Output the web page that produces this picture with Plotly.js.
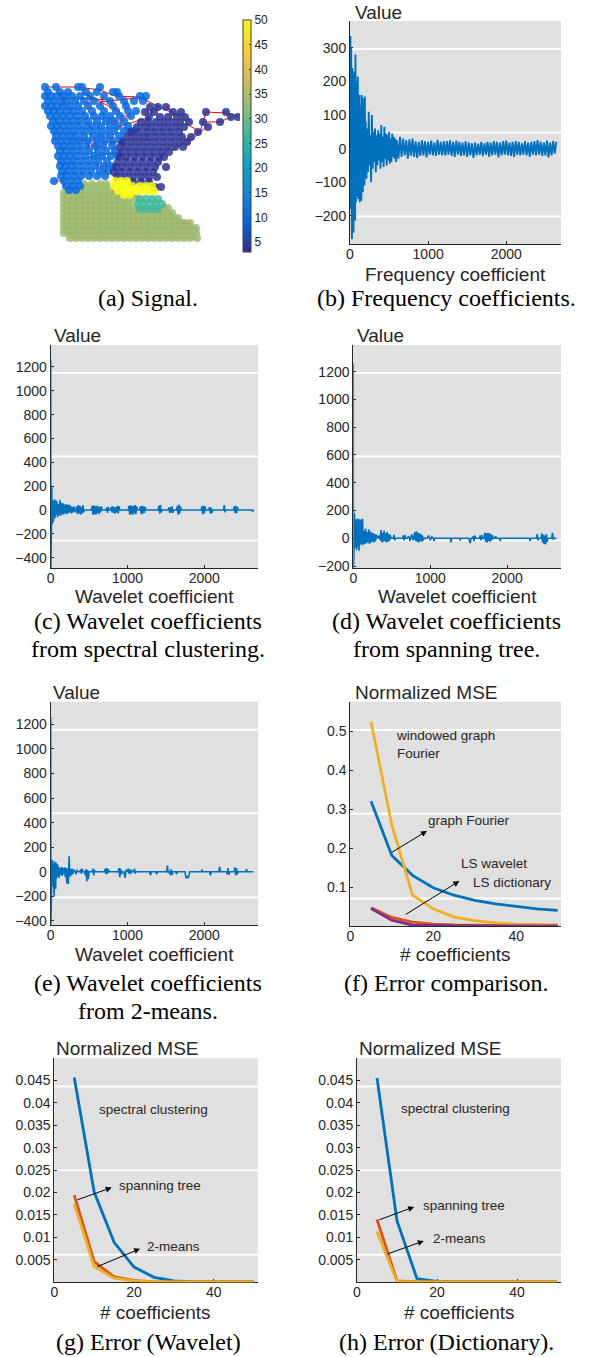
<!DOCTYPE html>
<html><head><meta charset="utf-8">
<script src="https://cdn.plot.ly/plotly-3.0.1.min.js"></script>
<style>html,body{margin:0;padding:0;background:#fff}#chart{width:592px;height:1357px}</style>
</head><body><div id="chart"></div>
<script>
// ---------- (a) graph signal: node rows [y, [x...]] per cluster, signal value per cluster ----------
const oliveRows = [
[184,[84,92,100,106]],
[188,[84,90,96,102,108]],
[193,[64,70,76,82,88,94,100,106,112,118]],
[198,[64,70,76,82,88,94,100,106,112,118,124,130,136]],
[203,[64,70,76,82,88,94,100,106,112,118,124,130]],
[208,[64,70,76,82,88,94,100,106,112,118,124,130,136,164,168]],
[213,[64,70,76,82,88,94,100,106,112,118,124,130,136,142,148,154,160,166,172]],
[218,[64,70,76,82,88,94,100,106,112,118,124,130,136,142,148,154,160,166,172,178]],
[223,[64,70,76,82,88,94,100,106,112,118,124,130,136,142,148,154,160,166,172,178,184,190]],
[228,[64,70,76,82,88,94,100,106,112,118,124,130,136,142,148,154,160,166,172,178,184,190,196]],
[233,[64,70,76,82,88,94,100,106,112,118,124,130,136,142,148,154,160,166,172,178,184,190,196]],
[238,[70,76,82,88,94,100,106,112,118,124,130,136,142,148,154,160,166,172,178,184,190,197]]
];
const blueRows = [
[87,[45,56,78,82,100]],
[92,[48,60,68,86,97,113,117]],
[96,[45,51,57,64,72,80,90,104,119,140,146]],
[101,[48,54,61,67,75,84,94,110,124,134,143]],
[106,[45,51,57,63,70,78,88,100,113,126]],
[111,[48,54,60,67,74,82,92,104,116,128,136]],
[116,[50,56,63,70,77,85,94,102,110,120,131]],
[121,[53,59,66,73,80,88,97,106,114,124]],
[126,[51,57,63,70,78,86,93,101,110,118,128]],
[131,[54,60,67,74,82,90,98,106,114,124,132]],
[136,[56,62,69,76,84,93,101,110,119]],
[141,[55,61,67,73,80,88,97,105,113,121]],
[146,[58,64,71,78,86,95,103,112]],
[151,[60,66,73,81,89,98,106,115]],
[156,[58,64,70,77,85,94,102,111,118]],
[161,[61,67,74,82,90,98,107]],
[166,[60,66,72,79,87,95,104,112]],
[171,[62,68,75,83,91,100,108]],
[176,[61,67,74,81,89,97,105]],
[181,[54,64,71,78]],
[186,[66,73,80]],
[190,[69,76]]
];
const purpleRows = [
[107,[150,158,166]],
[112,[145,154,173,181,206,226]],
[117,[149,160,168,177,185,231,238]],
[122,[141,148,156,164,172,180,189,203,220]],
[127,[137,145,152,160,168,176,184,208]],
[132,[131,139,147,155,163,171,179,198]],
[137,[127,135,143,150,158,166,174,182,191]],
[142,[123,131,139,147,155,163,171,179,187]],
[147,[120,127,135,143,151,159,167,175,183]],
[152,[122,130,138,146,154,162,169]],
[157,[120,127,135,143,151,159,164]],
[162,[118,126,134,142,150,158]],
[167,[116,123,131,139,147,155,166]],
[172,[114,121,129,137,145,153]],
[177,[117,125,133,141,149,157]],
[182,[133,141,149]],
[187,[155,161]]
];
const tealRows = [
[199,[140,146,152,158]],
[204,[138,144,150,156,162]],
[209,[140,146,152,158]]
];
const yellowRows = [
[181,[115,121,127]],
[186,[114,120,126,132,140,146,152]],
[191,[118,124,130,136,142,148,154]],
[195,[124,130]]
];
const clusterRows = [oliveRows, blueRows, purpleRows, tealRows, yellowRows];
const clusterSignal = [33, 10, 4, 27, 50];
const roads = [
[45,87,56,87],[56,87,78,87],[78,87,100,90],[100,90,115,96],[115,96,140,97],[140,97,157,106],[157,106,182,117],
[182,117,190,126],[190,126,200,132],[200,132,206,112],[206,112,226,113],[226,113,238,116],[203,122,220,122],
[220,122,231,117],[186,145,208,125],[172,150,198,132],[82,92,120,112],[60,97,110,100],[100,102,146,97],
[118,127,150,117],[70,140,120,142],[88,157,122,152],[54,181,64,181],[64,172,64,188],[82,187,82,198],
[112,193,115,181],[140,172,156,187],[156,187,152,191],[164,208,172,213],[178,218,196,228],
[60,92,64,106],[90,96,88,106],[104,96,100,106],[110,101,113,106],[124,101,126,106],[120,116,131,116],
[106,121,124,121],[131,132,139,132],[97,136,110,136],[86,146,103,146],[95,166,112,166],[100,171,108,171],
[145,112,154,112],[166,107,173,112],[181,112,185,117]
];
const cbTicks = [5,10,15,20,25,30,35,40,45,50];

// ---------- (b) frequency coefficients ----------
const freqX = [0,5,10,15,20,25,30,35,40,45,50,55,60,65,70,75,80,85,90,95,100,105,110,115,120,125,130,135,140,145,150,155,160,165,170,175,180,185,190,195,200,
210,220,230,240,250,260,270,280,290,300,310,320,330,340,350,360,370,380,390,400,410,420,430,440,450,460,470,480,490,500,510,520,530,540,550,560,570,580,590,600,
620,640,660,680,700,720,740,760,780,800,820,840,860,880,900,920,940,960,980,1000,
1020,1040,1060,1080,1100,1120,1140,1160,1180,1200,1220,1240,1260,1280,1300,1320,1340,1360,1380,1400,
1420,1440,1460,1480,1500,1520,1540,1560,1580,1600,1620,1640,1660,1680,1700,1720,1740,1760,1780,1800,
1820,1840,1860,1880,1900,1920,1940,1960,1980,2000,2020,2040,2060,2080,2100,2120,2140,2160,2180,2200,
2220,2240,2260,2280,2300,2320,2340,2360,2380,2400,2420,2440,2460,2480,2500,2520,2540,2560,2580,2600,2620,2640];
const freqY = [100,335,-180,300,-150,-270,240,-200,180,-250,230,-120,210,-215,280,-160,150,-140,200,-100,215,-150,130,-90,160,-160,120,-70,130,-155,160,-90,100,-130,150,-60,90,-110,155,-50,80,
-90,60,-70,110,-50,40,-100,100,-60,50,-40,60,-70,40,-50,55,-35,45,-60,70,-40,35,-55,65,-30,45,-50,40,-35,50,-45,30,-40,45,-25,35,-30,30,-40,25,
-30,35,-25,30,-20,25,-30,28,-22,30,-25,22,-28,20,-22,25,-20,22,-26,20,
-18,24,-20,18,-22,26,-18,20,-20,22,-20,22,-18,25,-22,20,-25,24,-18,20,
-22,18,-20,22,-25,18,-20,16,-28,18,-20,15,-18,20,-22,16,-18,20,-24,18,
-20,22,-18,20,-26,18,-20,22,-18,24,-20,18,-22,20,-25,22,-18,20,-20,16,
-18,22,-20,18,-24,20,-18,22,-20,25,-18,20,-22,18,-20,24,-26,18,-20,22,-15,20];

// ---------- (c) wavelet coefficients, spectral clustering: [index, value] ----------
const waveSpectral = [
[0,1260],[2,-490],[4,280],[6,-200],[8,210],[10,-150],[14,190],[18,-120],[22,100],[26,-90],[30,80],[35,-100],[40,70],[45,-60],[50,90],[55,-70],[60,60],[65,-50],[70,80],[75,-40],[80,70],[90,-60],[100,50],[110,-45],[120,85],[130,-50],[140,60],[150,-35],[160,55],[170,-40],[180,45],[190,-30],[200,50],[210,-35],[220,40],[230,-25],[240,45],[250,-20],[260,35],[270,-30],[280,25],[290,-20],[300,30],
[320,-20],[340,30],[350,-35],[360,40],[370,-30],[380,35],[390,-40],[400,25],[410,-30],[420,40],[430,-20],[440,0],
[530,0],[540,35],[550,-40],[560,40],[570,-35],[580,30],[590,-40],[600,35],[610,-25],[620,30],[630,-35],[640,25],[650,-20],[660,30],[670,0],
[720,0],[730,20],[740,-25],[750,25],[760,0],[780,0],[790,25],[800,-20],[810,30],[820,-25],[830,20],[840,-30],[850,25],[860,-20],[870,35],[880,-30],[890,30],[900,0],
[1010,0],[1020,35],[1030,-40],[1040,40],[1050,-35],[1060,30],[1070,-40],[1080,35],[1090,-30],[1100,40],[1110,-35],[1120,30],[1130,0],[1160,0],[1170,30],[1180,-35],[1190,35],[1200,-30],[1210,30],[1220,-25],[1230,25],[1240,0],
[1400,0],[1410,35],[1420,-30],[1430,40],[1440,-20],[1450,0],
[1530,0],[1540,20],[1550,-25],[1560,25],[1570,-20],[1580,30],[1590,-25],[1600,0],[1640,0],[1650,35],[1660,-40],[1670,45],[1680,-30],[1690,30],[1700,0],
[1960,0],[1970,30],[1980,-35],[1990,35],[2000,-30],[2010,30],[2020,0],[2060,0],[2070,25],[2080,-30],[2090,20],[2100,-25],[2110,0],
[2250,0],[2260,40],[2270,-20],[2280,0],
[2380,0],[2390,30],[2400,-25],[2410,35],[2420,-30],[2430,25],[2440,0],
[2620,0],[2630,-10],[2640,-5],[2645,0]
];

// ---------- (d) wavelet coefficients, spanning tree ----------
const waveTree = [
[0,1260],[2,-210],[4,250],[6,-60],[8,200],[10,-80],[14,180],[18,-40],[22,150],[26,-70],[30,120],[35,-50],[40,140],[45,-85],[50,100],[55,-40],[60,135],[65,-60],[70,140],[75,-90],[80,130],[85,-50],[90,120],[95,-40],[100,135],[110,-45],[120,140],[130,-50],[140,55],[150,-40],[160,70],[170,-35],[180,45],[190,-30],[200,65],[210,-40],[220,50],[230,-30],[240,40],[250,-25],[260,35],[270,-30],[280,30],[290,-20],[300,25],
[320,0],[340,20],[350,-15],[360,60],[370,-30],[380,40],[390,-25],[400,55],[410,-20],[420,35],[430,-30],[440,45],[450,-25],[460,30],[470,-20],[480,25],[490,0],[520,0],[530,25],[540,-15],[550,0],
[640,0],[650,20],[660,-15],[670,25],[680,0],[700,0],[720,15],[740,-20],[760,30],[780,-15],[800,45],[810,-20],[820,50],[830,-25],[840,40],[850,-30],[860,35],[870,-20],[880,30],[890,-25],[900,20],[910,-15],[920,0],[960,0],[980,20],[1000,-15],[1020,10],[1040,0],[1050,-20],[1060,0],
[1260,0],[1270,-30],[1280,0],[1380,0],[1390,-15],[1400,0],
[1500,0],[1510,-20],[1520,-35],[1530,0],[1550,0],[1560,15],[1570,-20],[1580,20],[1590,0],[1640,0],[1650,20],[1660,-15],[1670,25],[1680,0],[1700,0],[1710,40],[1720,-25],[1730,35],[1740,-30],[1750,40],[1760,-20],[1770,35],[1780,-25],[1790,30],[1800,-15],[1810,20],[1820,0],[1840,0],[1850,15],[1860,0],[1900,0],[1910,-20],[1920,0],
[2290,0],[2300,-20],[2310,0],[2380,0],[2390,30],[2400,-15],[2410,0],[2440,0],[2450,35],[2460,-30],[2470,25],[2480,-40],[2490,20],[2500,-45],[2510,30],[2520,-25],[2530,0],[2580,0],[2590,40],[2600,-10],[2610,0],[2640,0]
];

// ---------- (e) wavelet coefficients, 2-means ----------
const waveKmeans = [
[0,1260],[2,-430],[4,100],[6,-150],[8,90],[10,-200],[14,80],[18,-60],[22,95],[26,-120],[30,70],[35,-80],[40,60],[45,-200],[50,85],[55,-50],[60,40],[65,-140],[70,75],[75,-60],[80,50],[85,-30],[90,60],[95,-40],[100,40],[110,-50],[120,30],[130,-25],[140,40],[150,-35],[160,30],[170,-20],[180,35],[190,-45],[200,30],[210,-95],[220,25],[230,-100],[240,125],[250,-40],[260,20],[270,-30],[280,25],[290,-20],[300,15],
[320,0],[330,-20],[340,15],[350,0],[380,0],[390,20],[400,-15],[410,25],[420,0],[440,0],[450,-30],[460,20],[470,-80],[480,15],[490,-60],[500,0],[540,0],[550,25],[560,-30],[570,15],[580,0],
[700,0],[710,25],[720,-20],[730,30],[740,-15],[750,20],[760,0],[880,0],[890,30],[900,-45],[910,25],[920,-20],[930,0],[950,0],[960,-35],[970,-50],[980,15],[990,0],[1000,0],[1010,25],[1020,-15],[1030,20],[1040,-20],[1050,15],[1060,0],[1080,0],[1090,25],[1100,-15],[1110,0],
[1290,0],[1300,-30],[1310,0],[1370,0],[1380,-20],[1390,0],[1510,0],[1520,50],[1530,-10],[1540,0],[1550,0],[1560,-30],[1570,20],[1580,-25],[1590,0],[1630,0],[1640,-20],[1650,0],
[1750,0],[1760,-45],[1770,-50],[1780,-40],[1790,-50],[1800,-35],[1810,0],[1960,0],[1970,15],[1980,0],[2070,0],[2080,-30],[2090,0],[2190,0],[2200,40],[2210,0],
[2290,0],[2300,-20],[2310,30],[2320,-25],[2330,0],[2390,0],[2400,35],[2410,-30],[2420,30],[2430,-20],[2440,0],[2540,0],[2550,20],[2560,0],[2640,0]
];

// ---------- (f) error comparison ----------
const numCoef = [5,10,15,20,25,30,35,40,45,50];
const mseGraphFourier = [0.320,0.181,0.130,0.098,0.079,0.066,0.057,0.050,0.044,0.040];
const mseLSWavelet = [0.047,0.022,0.010,0.005,0.003,0.002,0.0015,0.001,0.001,0.001];
const mseWindowedGF = [0.524,0.260,0.079,0.044,0.023,0.014,0.008,0.005,0.004,0.003];
const mseLSDictionary = [0.045,0.015,0.002,0.001,0.0005,0.0003,0.0002,0.0001,0.0001,0.0001];

// ---------- (g) error, wavelet ----------
const wavMseSpectral = [0.0456,0.0201,0.0089,0.0034,0.0011,0.0003,0.0001,0.0001,0.0001,0.0001];
const wavMseTree = [0.0194,0.0046,0.0012,0.0004,0.0001,0.0001,0.0001,0.0001,0.0001,0.0001];
const wavMseKmeans = [0.0175,0.0035,0.0009,0.0003,0.0001,0.0001,0.0001,0.0001,0.0001,0.0001];

// ---------- (h) error, dictionary ----------
const dictMseSpectral = [0.0455,0.0137,0.0008,0.0002,0.0001,0.0001,0.0001,0.0001,0.0001,0.0001];
const dictMseTree = [0.0140,0.0003,0.0001,0.0001,0.0001,0.0001,0.0001,0.0001,0.0001,0.0001];
const dictMseKmeans = [0.0113,0.0002,0.0001,0.0001,0.0001,0.0001,0.0001,0.0001,0.0001,0.0001];

// ================= drawing =================
const W = 592, H = 1357;
const xd = (a, b) => [a / W, b / W];
const yd = (top, bot) => [1 - bot / H, 1 - top / H];
const C = {blue:'#0072BD', orange:'#D95319', yellow:'#EDB120', purple:'#7E2F8E'};
const SANS = 'Liberation Sans, Arial, Helvetica, sans-serif';
const SERIF = 'Liberation Serif, Times New Roman, serif';
const TXT = '#262626';
const parula = [[0,'#352A87'],[0.125,'#0363E1'],[0.25,'#1485D4'],[0.375,'#06A7C6'],[0.5,'#38B99E'],[0.625,'#92BF73'],[0.75,'#D9BA56'],[0.875,'#FCCE2E'],[1,'#F9FB0E']];

const traces = [];
// edges: olive road grid (row neighbours and same-x neighbours) + listed roads
const ex = [], ey = [];
oliveRows.forEach(([y, xs]) => {
  for (let i = 1; i < xs.length; i++) { ex.push(xs[i-1], xs[i], null); ey.push(y, y, null); }
});
for (let r = 1; r < oliveRows.length; r++) {
  const [y0, xs0] = oliveRows[r-1], [y1, xs1] = oliveRows[r];
  xs1.forEach(x => { if (xs0.includes(x)) { ex.push(x, x, null); ey.push(y0, y1, null); } });
}
roads.forEach(([a, b, c, d]) => { ex.push(a, c, null); ey.push(b, d, null); });
traces.push({type:'scatter', mode:'lines', x:ex, y:ey, xaxis:'x', yaxis:'y', line:{color:'#ff0000', width:1}, hoverinfo:'skip'});
// nodes
const nx = [], ny = [], nv = [];
clusterRows.forEach((rows, k) => rows.forEach(([y, xs]) => xs.forEach(x => { nx.push(x); ny.push(y); nv.push(clusterSignal[k]); })));
traces.push({type:'scatter', mode:'markers', x:nx, y:ny, xaxis:'x', yaxis:'y', hoverinfo:'skip',
  marker:{size:8, color:nv, colorscale:parula, cmin:3, cmax:50, opacity:0.85, line:{width:0},
    showscale:true,
    colorbar:{x:243/W, xanchor:'left', y:1-136/H, yanchor:'middle', len:232/H, lenmode:'fraction', thickness:8,
      outlinecolor:'#404040', outlinewidth:1, tickvals:cbTicks, ticks:'inside', ticklen:2, tickcolor:'#404040',
      tickfont:{family:SANS, size:12, color:TXT}, xpad:0, ypad:0}}});

const sig = (pts, ax) => ({type:'scatter', mode:'lines', x:pts.map(p=>p[0]), y:pts.map(p=>p[1]), xaxis:'x'+ax, yaxis:'y'+ax, line:{color:C.blue, width:1.6}, hoverinfo:'skip'});
traces.push({type:'scatter', mode:'lines', x:freqX, y:freqY, xaxis:'x2', yaxis:'y2', line:{color:C.blue, width:1.9}, hoverinfo:'skip'});
traces.push(sig(waveSpectral, 3));
traces.push(sig(waveTree, 4));
traces.push(sig(waveKmeans, 5));
const ln = (y, col, ax) => ({type:'scatter', mode:'lines', x:numCoef, y:y, xaxis:'x'+ax, yaxis:'y'+ax, line:{color:col, width:2.8}, hoverinfo:'skip'});
traces.push(ln(mseGraphFourier, C.blue, 6), ln(mseLSWavelet, C.orange, 6), ln(mseWindowedGF, C.yellow, 6), ln(mseLSDictionary, C.purple, 6));
traces.push(ln(wavMseSpectral, C.blue, 7), ln(wavMseTree, C.orange, 7), ln(wavMseKmeans, C.yellow, 7));
traces.push(ln(dictMseSpectral, C.blue, 8), ln(dictMseTree, C.orange, 8), ln(dictMseKmeans, C.yellow, 8));

const base = {showgrid:false, zeroline:false, showline:true, linecolor:TXT, linewidth:1, ticks:'inside', ticklen:3,
  tickcolor:TXT, tickfont:{family:SANS, size:14, color:TXT}, fixedrange:true, layer:'below traces'};
const xb = Object.assign({}, base, {ticklabelstandoff:-3});
const layout = {
  width:W, height:H, margin:{l:0, r:0, t:0, b:0}, paper_bgcolor:'#fff', plot_bgcolor:'rgba(0,0,0,0)', showlegend:false,
  xaxis:{domain:xd(0,240), range:[0,240], visible:false, fixedrange:true},
  yaxis:{domain:yd(0,260), range:[260,0], visible:false, fixedrange:true},
  xaxis2:Object.assign({}, xb, {domain:xd(350,561), range:[0,2700], tickvals:[0,1000,2000], anchor:'y2'}),
  yaxis2:Object.assign({}, base, {domain:yd(21,244), range:[-284,380], tickvals:[-200,-100,0,100,200,300], anchor:'x2'}),
  xaxis3:Object.assign({}, xb, {domain:xd(50.7,258), range:[0,2700], tickvals:[0,1000,2000], anchor:'y3'}),
  yaxis3:Object.assign({}, base, {domain:yd(345,568), range:[-487,1384], tickvals:[-400,-200,0,200,400,600,800,1000,1200], anchor:'x3'}),
  xaxis4:Object.assign({}, xb, {domain:xd(353.3,561), range:[0,2700], tickvals:[0,1000,2000], anchor:'y4'}),
  yaxis4:Object.assign({}, base, {domain:yd(345,568), range:[-214,1392], tickvals:[-200,0,200,400,600,800,1000,1200], anchor:'x4'}),
  xaxis5:Object.assign({}, xb, {domain:xd(50.7,258), range:[0,2700], tickvals:[0,1000,2000], anchor:'y5'}),
  yaxis5:Object.assign({}, base, {domain:yd(701.7,925), range:[-434,1385], tickvals:[-400,-200,0,200,400,600,800,1000,1200], anchor:'x5'}),
  xaxis6:Object.assign({}, xb, {domain:xd(350.3,561), range:[0,50.8], tickvals:[0,20,40], anchor:'y6'}),
  yaxis6:Object.assign({}, base, {domain:yd(701.7,926), range:[0,0.5756], tickvals:[0.1,0.2,0.3,0.4,0.5], anchor:'x6'}),
  xaxis7:Object.assign({}, xb, {domain:xd(54.3,257.7), range:[0,51], tickvals:[0,20,40], anchor:'y7'}),
  yaxis7:Object.assign({}, base, {domain:yd(1058.3,1282.3), range:[0,0.0499], tickvals:[0.005,0.01,0.015,0.02,0.025,0.03,0.035,0.04,0.045],
    ticktext:['0.005','0.01','0.015','0.02','0.025','0.03','0.035','0.04','0.045'], anchor:'x7'}),
  xaxis8:Object.assign({}, xb, {domain:xd(357,561), range:[0,51], tickvals:[0,20,40], anchor:'y8'}),
  yaxis8:Object.assign({}, base, {domain:yd(1058.3,1282.3), range:[0,0.0499], tickvals:[0.005,0.01,0.015,0.02,0.025,0.03,0.035,0.04,0.045],
    ticktext:['0.005','0.01','0.015','0.02','0.025','0.03','0.035','0.04','0.045'], anchor:'x8'}),
  shapes:[], annotations:[]
};
for (let k = 2; k <= 8; k++) {
  layout.shapes.push({type:'rect', xref:`x${k} domain`, yref:`y${k} domain`, x0:0, x1:1, y0:0, y1:1, fillcolor:'#e0e0e0', line:{width:0}, layer:'below'});
  [0.123, 0.5, 0.874].forEach(f => layout.shapes.push({type:'line', xref:`x${k} domain`, yref:`y${k} domain`, x0:0, x1:1, y0:f, y1:f, line:{color:'#ffffff', width:2}, layer:'below'}));
}
const txt = (t, px, py, size, family, anchor) => ({text:t, xref:'paper', yref:'paper', x:px/W, y:1-py/H, xanchor:anchor||'center', yanchor:'middle',
  showarrow:false, font:{family:family||SANS, size:size, color:family===SERIF?'#000':TXT}});
// axis titles
layout.annotations.push(
  txt('Value', 352.7, 12, 19, SANS, 'left'),
  txt('Value', 52, 335, 19, SANS, 'left'),
  txt('Value', 355.3, 335, 19, SANS, 'left'),
  txt('Value', 50.7, 692, 19, SANS, 'left'),
  txt('Normalized MSE', 352.7, 692, 19, SANS, 'left'),
  txt('Normalized MSE', 54.3, 1048.5, 19, SANS, 'left'),
  txt('Normalized MSE', 357, 1048.5, 19, SANS, 'left'),
  txt('Frequency coefficient', 455.5, 274, 19),
  txt('Wavelet coefficient', 154.3, 596, 19),
  txt('Wavelet coefficient', 457, 596, 19),
  txt('Wavelet coefficient', 154.3, 954, 19),
  txt('# coefficients', 455.5, 954, 19),
  txt('# coefficients', 156, 1312, 19),
  txt('# coefficients', 459, 1312, 19)
);
// captions
layout.annotations.push(
  txt('(a) Signal.', 148, 298, 24, SERIF),
  txt('(b) Frequency coefficients.', 446, 298, 24, SERIF),
  txt('(c) Wavelet coefficients', 148, 621, 24, SERIF),
  txt('from spectral clustering.', 148, 649, 24, SERIF),
  txt('(d) Wavelet coefficients', 446, 621, 24, SERIF),
  txt('from spanning tree.', 446, 649, 24, SERIF),
  txt('(e) Wavelet coefficients', 148, 983, 24, SERIF),
  txt('from 2-means.', 148, 1011, 24, SERIF),
  txt('(f) Error comparison.', 446, 983, 24, SERIF),
  txt('(g) Error (Wavelet)', 148, 1342, 24, SERIF),
  txt('(h) Error (Dictionary).', 446, 1342, 24, SERIF)
);
// in-plot labels and arrows
const lab = (t, ax, x, y) => ({text:t, xref:'x'+ax, yref:'y'+ax, x:x, y:y, xanchor:'left', yanchor:'middle', align:'left', showarrow:false,
  font:{family:SANS, size:13.5, color:TXT}});
const arr = (ax, x0, y0, x1, y1) => ({text:'', xref:'x'+ax, yref:'y'+ax, axref:'x'+ax, ayref:'y'+ax, x:x1, y:y1, ax:x0, ay:y0,
  showarrow:true, arrowhead:2, arrowsize:1.2, arrowwidth:1, arrowcolor:'#000', standoff:0, startstandoff:0});
layout.annotations.push(
  lab('windowed graph<br>Fourier', 6, 10.5, 0.4645),
  lab('graph Fourier', 6, 18.2, 0.2715),
  lab('LS wavelet', 6, 26.2, 0.161),
  lab('LS dictionary', 6, 29.1, 0.1129),
  arr(6, 9.65, 0.1866, 18.5, 0.244),
  arr(6, 13.0, 0.0272, 26.3, 0.1154),
  lab('spectral clustering', 7, 10.6, 0.0386),
  lab('spanning tree', 7, 15.7, 0.0216),
  lab('2-means', 7, 22.7, 0.0080),
  arr(7, 5.44, 0.01826, 14.39, 0.0211),
  arr(7, 10.4, 0.00335, 21.5, 0.00747),
  lab('spectral clustering', 8, 10.6, 0.0388),
  lab('spanning tree', 8, 16, 0.0171),
  lab('2-means', 8, 18.5, 0.0097),
  arr(8, 5.2, 0.0138, 14.3, 0.0168),
  arr(8, 7.25, 0.0062, 16.7, 0.0092)
);
Plotly.newPlot('chart', traces, layout, {displayModeBar:false, staticPlot:true});
</script></body></html>
